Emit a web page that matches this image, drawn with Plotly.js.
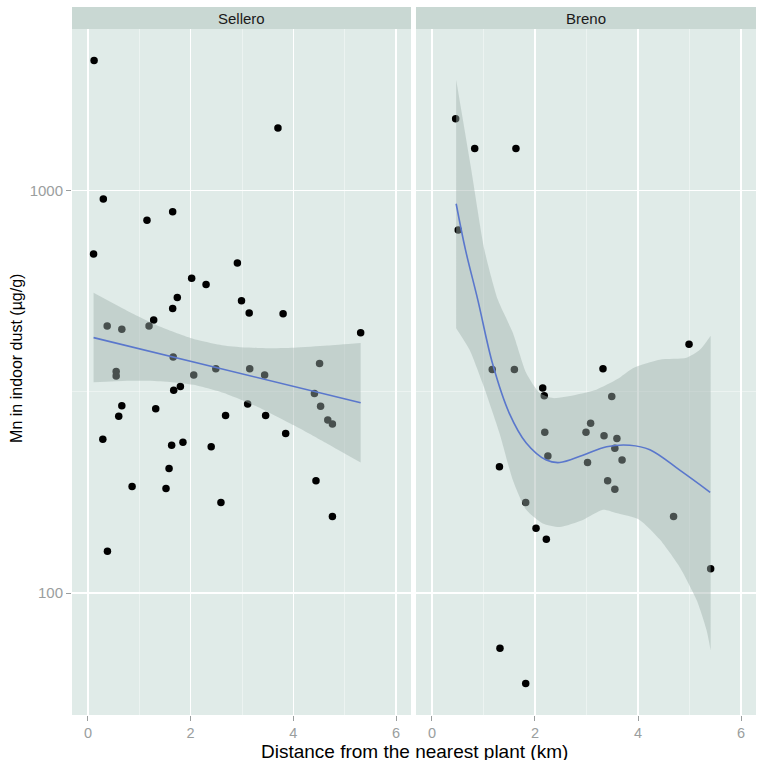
<!DOCTYPE html>
<html>
<head>
<meta charset="utf-8">
<script src="https://cdn.plot.ly/plotly-3.0.1.min.js"></script>
<style>html,body{margin:0;padding:0;background:#fff;}#chart{width:764px;height:768px;}</style>
</head>
<body>
<div id="chart"></div>
<script>
// ---- Data ----
const panels = ["Sellero", "Breno"];

// Sellero points: distance (km), Mn (µg/g)
const selleroX = [0.12,3.70,0.30,1.65,1.15,0.11,2.91,2.02,2.30,1.74,2.99,1.65,3.14,3.80,1.28,1.19,0.375,0.66,5.31,1.66,
  4.51,2.49,3.15,0.55,0.55,2.06,3.44,1.80,1.67,4.41,3.11,0.66,4.53,0.60,1.32,2.68,3.46,4.67,4.76,0.29,
  3.85,1.63,1.85,2.40,1.58,4.44,0.86,1.52,2.59,4.76,0.38];
const selleroY = [2103,1430,952,886,844,695,661,605,584,542,532,509,496,494,477,461,461,452,443,386,
  372,361,361,355,346,348,348,326,319,313,295,292,291,275,287,276,276,269,263,241,
  249,233,237,231,204,190,184,182,168,155,127];

// Breno points
const brenoX = [0.46,0.83,1.63,0.51,1.17,1.60,3.32,4.99,2.15,2.18,3.49,3.08,2.19,2.99,3.34,3.59,3.55,2.25,3.02,3.69,
  1.31,3.41,3.55,1.82,2.02,2.22,4.69,5.41,1.32,1.82];
const brenoY = [1507,1271,1271,798,359,359,361,415,323,309,308,264,251,251,246,242,229,219,211,214,
  206,190,181,168,145,136,155,115,73,59.6];

// Sellero smooth (linear fit) and confidence band
const selFitX = [0.11, 5.31];
const selFitY = [431, 297];
const selBandX = [0.11,0.76,1.41,2.06,2.71,3.36,4.01,4.66,5.31];
const selBandUp = [557,503,459,428,411,406,407,412,418];
const selBandLo = [334,337,336,329,312,288,261,235,211];

// Breno smooth (loess) and confidence band
const breFitX = [0.47,0.65,0.89,1.18,1.50,1.83,2.22,2.48,2.93,3.39,3.84,4.23,4.81,5.40];
const breFitY = [927,713,535,370,280,236,214,211,220,231,233,227,202,178];
const breUpX = [0.47,0.76,1.02,1.28,1.57,1.83,2.09,2.35,2.80,3.19,3.60,3.90,4.42,4.94,5.20,5.41];
const breUpY = [1884,1132,711,535,443,352,314,305,311,320,340,362,380,384,402,436];
const breLoX = [0.47,0.73,0.98,1.31,1.57,1.83,2.15,2.48,2.93,3.32,3.58,4.03,4.42,4.81,5.14,5.33,5.41];
const breLoY = [455,402,333,250,191,161,149,146,152,161,158,152,136,116,96,81,72];

const xTicks = [0, 2, 4, 6];
const xMinor = [1, 3, 5];
const yTicks = [100, 1000];
const yMinor = [31.62, 316.2, 3162];

// ---- Styling ----
const FONT = "Liberation Sans, Arial, sans-serif";
const panelBg = "#E0EBE8";
const stripBg = "#C9D8D3";
const bandFill = "rgba(160,178,172,0.45)";
const lineCol = "#5A77CC";
const tickCol = "#9A9E9E";

const pt = { color: "#000", size: 7.5 };
const hidden = { width: 0, shape: "spline", smoothing: 0.6, color: "rgba(0,0,0,0)" };
const traces = [
  { x: selleroX, y: selleroY, type: "scatter", mode: "markers", marker: pt, xaxis: "x", yaxis: "y" },
  { x: brenoX, y: brenoY, type: "scatter", mode: "markers", marker: pt, xaxis: "x2", yaxis: "y" },
  // Sellero band: lower then upper filled to it
  { x: selBandX, y: selBandLo, type: "scatter", mode: "lines", line: hidden, xaxis: "x", yaxis: "y" },
  { x: selBandX, y: selBandUp, type: "scatter", mode: "lines", line: hidden, fill: "tonexty", fillcolor: bandFill, xaxis: "x", yaxis: "y" },
  // Breno band
  { x: breLoX, y: breLoY, type: "scatter", mode: "lines", line: hidden, xaxis: "x2", yaxis: "y" },
  { x: breUpX, y: breUpY, type: "scatter", mode: "lines", line: hidden, fill: "tonexty", fillcolor: bandFill, xaxis: "x2", yaxis: "y" },
  { x: selFitX, y: selFitY, type: "scatter", mode: "lines", line: { color: lineCol, width: 1.6 }, xaxis: "x", yaxis: "y" },
  { x: breFitX, y: breFitY, type: "scatter", mode: "lines", line: { color: lineCol, width: 1.6, shape: "spline", smoothing: 1 }, xaxis: "x2", yaxis: "y" }
];

const yTop = 0.9689;
function xax(domain) {
  return {
    domain: domain, anchor: "y", range: [-0.31, 6.29],
    tickmode: "array", tickvals: xTicks, ticktext: xTicks.map(String),
    ticks: "outside", ticklen: 5, tickwidth: 1, tickcolor: tickCol,
    tickfont: { family: FONT, size: 14.5, color: tickCol },
    showgrid: true, gridcolor: "#FFFFFF", gridwidth: 1.5,
    minor: { tickmode: "array", tickvals: xMinor, showgrid: true, gridcolor: "rgba(255,255,255,0.55)", gridwidth: 0.7, ticks: "" },
    zeroline: false, showline: false, fixedrange: true
  };
}

const layout = {
  width: 764, height: 768,
  margin: { l: 72, r: 8, t: 7, b: 53 },
  paper_bgcolor: "#FFFFFF", plot_bgcolor: panelBg,
  showlegend: false, hovermode: false,
  font: { family: FONT },
  xaxis: xax([0, 0.4956]),
  xaxis2: xax([0.5029, 1]),
  yaxis: {
    domain: [0, yTop], anchor: "x", type: "log",
    range: [Math.log10(49.8), Math.log10(2518)],
    tickmode: "array", tickvals: yTicks, ticktext: yTicks.map(String),
    ticks: "outside", ticklen: 5, tickwidth: 1, tickcolor: tickCol,
    tickfont: { family: FONT, size: 15, color: tickCol },
    showgrid: true, gridcolor: "#FFFFFF", gridwidth: 1.5,
    minor: { tickmode: "array", tickvals: yMinor, showgrid: true, gridcolor: "rgba(255,255,255,0.55)", gridwidth: 0.7, ticks: "" },
    zeroline: false, showline: false, fixedrange: true
  },
  shapes: [
    { type: "rect", xref: "x domain", yref: "paper", x0: 0, x1: 1, y0: yTop, y1: 1, fillcolor: stripBg, line: { width: 0 }, layer: "below" },
    { type: "rect", xref: "x2 domain", yref: "paper", x0: 0, x1: 1, y0: yTop, y1: 1, fillcolor: stripBg, line: { width: 0 }, layer: "below" }
  ],
  annotations: [
    { xref: "x domain", yref: "paper", x: 0.5, y: (yTop + 1) / 2, text: panels[0], showarrow: false,
      font: { family: FONT, size: 15, color: "#1A1A1A" }, xanchor: "center", yanchor: "middle" },
    { xref: "x2 domain", yref: "paper", x: 0.5, y: (yTop + 1) / 2, text: panels[1], showarrow: false,
      font: { family: FONT, size: 15, color: "#1A1A1A" }, xanchor: "center", yanchor: "middle" },
    { xref: "paper", yref: "paper", x: 0.5, y: 0, yshift: -36, height: 18, text: "Distance from the nearest plant (km)", showarrow: false,
      font: { family: FONT, size: 19, color: "#000" }, xanchor: "center", yanchor: "middle" },
    { xref: "paper", yref: "paper", x: 0, xshift: -55, y: 0.503, text: "Mn in indoor dust (µg/g)", showarrow: false, textangle: -90,
      font: { family: FONT, size: 16, color: "#000" }, xanchor: "center", yanchor: "middle" }
  ]
};

Plotly.newPlot("chart", traces, layout, { staticPlot: true, displayModeBar: false });
</script>
</body>
</html>
